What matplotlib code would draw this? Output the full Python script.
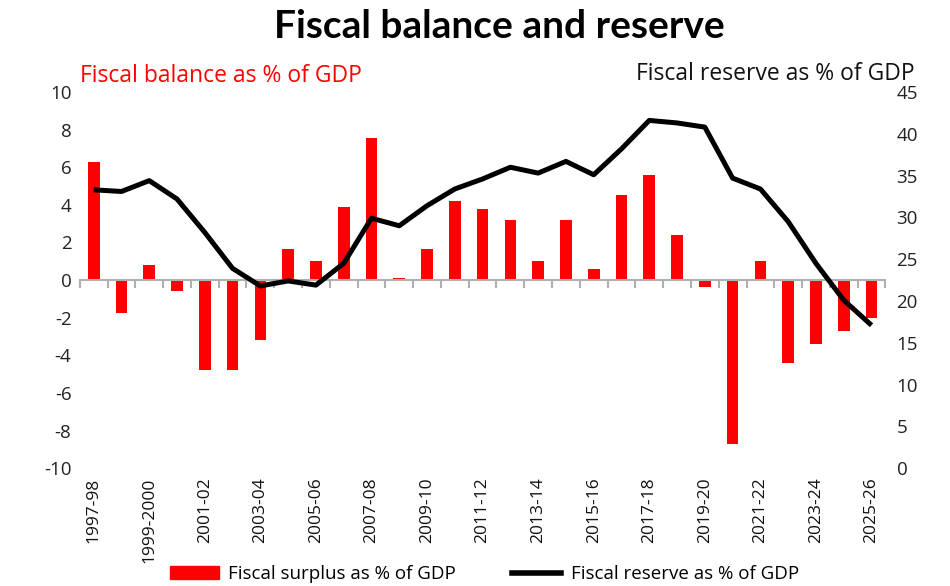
# Fiscal balance and reserve chart

import numpy as np
import matplotlib
matplotlib.use("Agg")
import matplotlib.pyplot as plt
import matplotlib.transforms as mtransforms
from matplotlib.patches import Patch
from matplotlib.lines import Line2D

plt.rcParams['font.family'] = ['Open Sans', 'DejaVu Sans']
plt.rcParams['axes.unicode_minus'] = False

# Data
years = ['1997-98', '1998-99', '1999-2000', '2000-01', '2001-02', '2002-03', '2003-04',
         '2004-05', '2005-06', '2006-07', '2007-08', '2008-09', '2009-10', '2010-11',
         '2011-12', '2012-13', '2013-14', '2014-15', '2015-16', '2016-17', '2017-18',
         '2018-19', '2019-20', '2020-21', '2021-22', '2022-23', '2023-24', '2024-25',
         '2025-26']
surplus = [6.3, -1.75, 0.8, -0.6, -4.8, -4.8, -3.2, 1.65, 1.0, 3.9, 7.55, 0.1, 1.65, 4.2,
           3.8, 3.2, 1.0, 3.2, 0.6, 4.5, 5.6, 2.4, -0.35, -8.7, 1.0, -4.4, -3.4, -2.7, -2.0]
reserve = [33.3, 33.1, 34.4, 32.2, 28.2, 23.9, 21.8, 22.4, 21.9, 24.5, 29.9, 29.0, 31.4, 33.4,
           34.6, 36.0, 35.3, 36.7, 35.1, 38.2, 41.6, 41.3, 40.8, 34.7, 33.4, 29.5, 24.5, 20.1,
           17.1]

x = np.arange(len(years))

fig = plt.figure(figsize=(9.5, 5.86), dpi=100)
ax = fig.add_axes([0.084, 0.201, 0.848, 0.642])
ax2 = ax.twinx()

# Bars on left axis
ax.bar(x, surplus, width=0.42, color='#ff0000', zorder=2)
ax.set_ylim(-10, 10)
ax.set_yticks(np.arange(-10, 11, 2))
ax.set_xlim(-0.5, len(years) - 0.5)

# x axis at zero with ticks at category boundaries
ax.spines['bottom'].set_position(('data', 0))
ax.spines['bottom'].set_color('#b0b0b0')
ax.spines['bottom'].set_linewidth(1.5)
ax.set_xticks(np.arange(-0.5, len(years), 1))
ax.set_xticklabels([])
ax.tick_params(axis='x', length=6, width=1.5, color='#b0b0b0', direction='out')
for s in ['top', 'left', 'right']:
    ax.spines[s].set_visible(False)
ax.tick_params(axis='y', length=0, labelsize=13.5, pad=6, labelcolor='#222222')

trans = mtransforms.blended_transform_factory(ax.transData, ax.transAxes)
for i in range(0, len(years), 2):
    ax.text(x[i], -0.025, years[i], rotation=90, ha='center', va='top',
            fontsize=12.5, color='#111111', transform=trans)

# Line on right axis
ax2.plot(x, reserve, color='black', linewidth=3.6, solid_capstyle='butt', zorder=3)
ax2.set_ylim(0, 45)
ax2.set_yticks(np.arange(0, 46, 5))
for s in ['top', 'left', 'right', 'bottom']:
    ax2.spines[s].set_visible(False)
ax2.tick_params(axis='y', length=0, labelsize=13.5, pad=8, labelcolor='#222222')

# Titles and axis captions
fig.text(0.526, 0.955, 'Fiscal balance and reserve', ha='center', va='center',
         fontsize=28, fontweight='bold', family=['Lato', 'DejaVu Sans'])
fig.text(0.084, 0.870, 'Fiscal balance as % of GDP', ha='left', va='center',
         fontsize=16.5, color='#ff0000')
fig.text(0.963, 0.874, 'Fiscal reserve as % of GDP', ha='right', va='center',
         fontsize=16.5, color='#111111')

# Legend at the bottom
handles = [Patch(color='#ff0000'), Line2D([0], [0], color='black', linewidth=4)]
labels = ['Fiscal surplus as % of GDP', 'Fiscal reserve as % of GDP']
fig.legend(handles, labels, loc='center', bbox_to_anchor=(0.51, 0.02), ncol=2,
           frameon=False, fontsize=13.5, handlelength=2.6, columnspacing=3.0,
           handletextpad=0.5)

fig.savefig('out.png', dpi=100)
